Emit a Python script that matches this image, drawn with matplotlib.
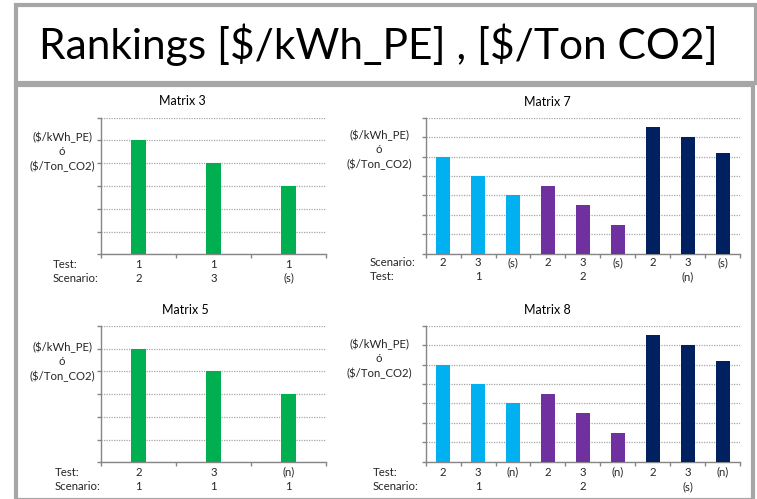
import numpy as np
import matplotlib
matplotlib.use('Agg')
import matplotlib.pyplot as plt
from matplotlib.patches import Rectangle
from matplotlib import transforms

plt.rcParams['font.family'] = ['Lato', 'DejaVu Sans']
plt.rcParams['text.parse_math'] = False

W, H = 757, 499

# bar heights (arbitrary units, one gridline per unit)
m3_vals = [5, 4, 3]
m3_test = ['1', '1', '1']
m3_scen = ['2', '3', '(s)']

m5_vals = [5, 4, 3]
m5_test = ['2', '3', '(n)']
m5_scen = ['1', '1', '1']

m7_vals = [5, 4, 3, 3.5, 2.5, 1.5, 6.5, 6, 5.2]
m7_scen = ['2', '3', '(s)', '2', '3', '(s)', '2', '3', '(s)']
m7_test = ['1', '2', '(n)']

m8_vals = [5, 4, 3, 3.5, 2.5, 1.5, 6.5, 6, 5.2]
m8_test = ['2', '3', '(n)', '2', '3', '(n)', '2', '3', '(n)']
m8_scen = ['1', '2', '(s)']

green = '#00B050'
group_colors = ['#00B0F0', '#7030A0', '#002060']
axis_gray = '#868686'
grid_gray = '#A6A6A6'
txt = '#262626'
small = 8.2

fig = plt.figure(figsize=(W / 100, H / 100), dpi=100)


def fx(x):
    return x / W


def fy(y):
    return 1 - y / H


# frame: title box and chart box
fig.patches.append(Rectangle((fx(16), fy(83)), fx(740), 78 / H, transform=fig.transFigure,
                             fill=False, ec='#A6A6A6', lw=3.0))
fig.patches.append(Rectangle((fx(16), fy(500)), fx(737), 415 / H, transform=fig.transFigure,
                             fill=False, ec='#A6A6A6', lw=3.0))

title = fig.text(fx(378.5), fy(58.5), 'Rankings [$/kWh_PE] , [$/Ton CO2]',
                 ha='center', va='baseline', fontsize=30, color='black')
# squeeze the title to its box width
fig.canvas.draw()
w = title.get_window_extent(fig.canvas.get_renderer()).width
title.set_fontsize(30 * 679 / w)


def panel(x0, x1, ytop, ybot, vals, colors, ymax, width, name, name_xy,
          row_names, row_x, rows_y, row1, row2, row2_pos, ylab_xy):
    ax = fig.add_axes([fx(x0), fy(ybot), (x1 - x0) / W, (ybot - ytop) / H])
    n = len(vals)
    x = np.arange(n)
    ax.bar(x, vals, width=width, color=colors, zorder=3)
    ax.set_xlim(-0.5, n - 0.5)
    ax.set_ylim(0, ymax)
    ax.set_yticks(np.arange(0, ymax + 1))
    ax.set_yticklabels([])
    ax.set_xticks(np.arange(-0.5, n, 1))
    ax.set_xticklabels([])
    ax.grid(axis='y', color=grid_gray, linestyle=(0, (1, 1)), lw=0.9, zorder=0)
    for s in ['top', 'right']:
        ax.spines[s].set_visible(False)
    for s in ['left', 'bottom']:
        ax.spines[s].set_color(axis_gray)
        ax.spines[s].set_linewidth(1.0)
    ax.tick_params(axis='both', direction='out', length=3, color=axis_gray, width=1.0)

    tr = transforms.blended_transform_factory(ax.transData, fig.transFigure)
    for i, lab in enumerate(row1):
        ax.text(i, fy(rows_y[0]), lab, transform=tr, ha='center', va='center',
                fontsize=small, color=txt)
    for pos, lab in zip(row2_pos, row2):
        ax.text(pos, fy(rows_y[1]), lab, transform=tr, ha='center', va='center',
                fontsize=small, color=txt)
    for name_, yy in zip(row_names, rows_y):
        fig.text(fx(row_x), fy(yy), name_, ha='left', va='center', fontsize=small, color=txt)

    fig.text(fx(name_xy[0]), fy(name_xy[1]), name, ha='center', va='center',
             fontsize=9, color='black')
    fig.text(fx(ylab_xy[0]), fy(ylab_xy[1]), '($/kWh_PE)\nó\n($/Ton_CO2)',
             ha='center', va='center', fontsize=small, color=txt, linespacing=1.35)
    return ax


def group_colors_for(vals):
    return [group_colors[i // 3] for i in range(len(vals))]


panel(101, 326, 117.5, 254.3, m3_vals, green, 6, 0.19, 'Matrix 3', (182, 101),
      ['Test:', 'Scenario:'], 53, (264, 278), m3_test, m3_scen, [0, 1, 2], (62, 152))

panel(101, 326, 326, 462.3, m5_vals, green, 6, 0.19, 'Matrix 5', (185, 310),
      ['Test:', 'Scenario:'], 55, (472, 487), m5_test, m5_scen, [0, 1, 2], (62, 362))

panel(425.7, 740, 117.7, 253.7, m7_vals, group_colors_for(m7_vals), 7, 0.4, 'Matrix 7',
      (547, 102), ['Scenario:', 'Test:'], 370, (263, 277), m7_scen, m7_test, [1, 4, 7],
      (379, 150))

panel(425.7, 740, 325.7, 461.7, m8_vals, group_colors_for(m8_vals), 7, 0.4, 'Matrix 8',
      (547, 310), ['Test:', 'Scenario:'], 373, (472, 487), m8_test, m8_scen, [1, 4, 7],
      (379, 359))

fig.savefig('out.png', dpi=100)
